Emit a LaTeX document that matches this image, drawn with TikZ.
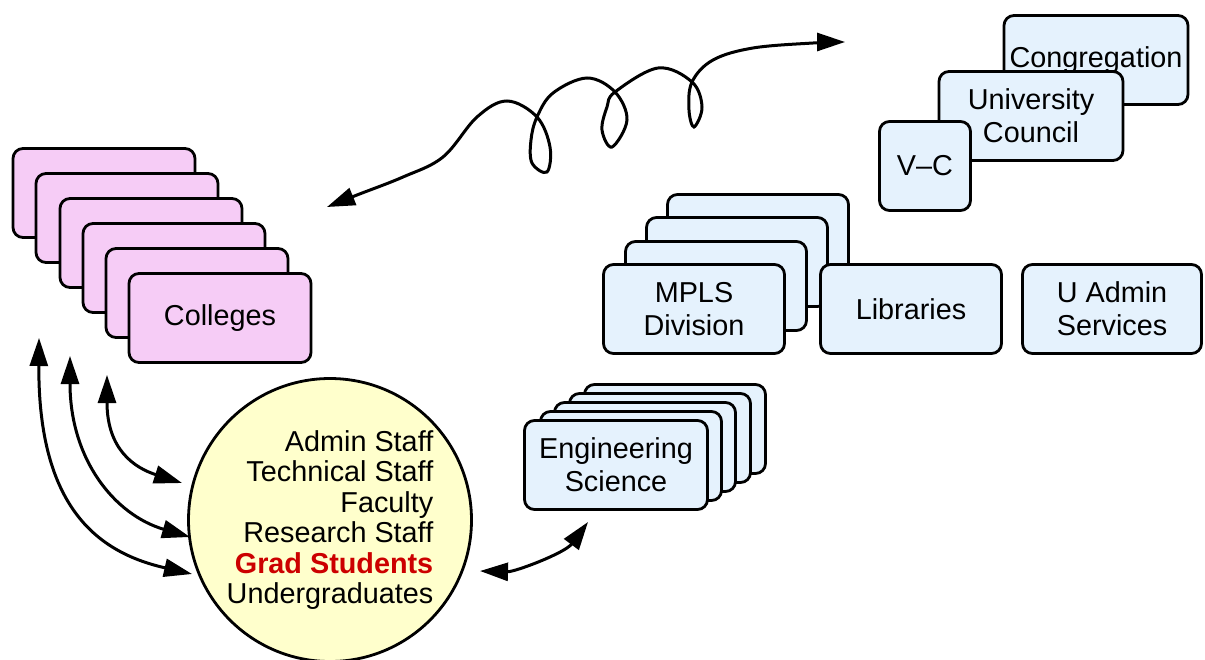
\documentclass[tikz,border=0pt]{standalone}
\usepackage{fontspec}
\setmainfont{Liberation Sans}
\usetikzlibrary{arrows.meta}
\definecolor{collegepink}{RGB}{246,204,246}
\definecolor{unitblue}{RGB}{229,242,253}
\definecolor{memberyellow}{RGB}{255,255,204}
\definecolor{gradred}{RGB}{204,0,0}

\begin{document}
\begin{tikzpicture}[x=1pt,y=-1pt]
\useasboundingbox (0,0) rectangle (1205,659);
\tikzstyle{College} = [draw, line width=2.8pt, rounded corners=10pt, fill=collegepink, minimum width=182pt, minimum height=89pt, align=center, font=\fontsize{28.8}{33}\selectfont]
\tikzstyle{Unit} = [draw, line width=2.8pt, rounded corners=10pt, fill=unitblue, minimum width=181pt, minimum height=89pt, align=center, font=\fontsize{28.8}{33}\selectfont]
\tikzstyle{Members} = [draw, line width=2.8pt, circle, fill=memberyellow, minimum size=283pt, inner sep=0pt, align=right, font=\fontsize{28.8}{30.4}\selectfont]

% colleges
\node [College] (v1) at (104,193) {};
\node [College] (v2) at (127,218) {};
\node [College] (v3) at (151,243) {};
\node [College] (v4) at (174,268) {};
\node [College] (v5) at (197,293) {};
\node [College] (v6) at (220,318) {Colleges};

% university
\node [Unit, minimum width=184pt] (v7) at (1096,60) {Congregation};
\node [Unit, minimum width=184pt] (v8) at (1031,116) {University\\Council};
\node [Unit, minimum width=91pt] (v9) at (925,166) {V–C};

% divisions
\node [Unit] (v10) at (758,239) {};
\node [Unit] (v11) at (737,262) {};
\node [Unit] (v12) at (716,286) {};
\node [Unit] (v13) at (694,309) {MPLS\\Division};
\node [Unit] (v14) at (911,309) {Libraries};
\node [Unit, minimum width=179pt] (v15) at (1112,309) {U Admin\\Services};

% departments
\node [Unit] (v16) at (675,429) {};
\node [Unit] (v17) at (660,438) {};
\node [Unit] (v18) at (645,447) {};
\node [Unit] (v19) at (631,456) {};
\node [Unit, minimum width=183pt] (v20) at (616,465) {Engineering\\Science};

\node [Members] (v21) at (330,520) {Admin Staff\\Technical Staff\\Faculty\\Research Staff\\{\bfseries\color{gradred}Grad Students}\\Undergraduates};

\tikzstyle{Link} = [{Triangle[length=28pt,width=18pt]}-{Triangle[length=28pt,width=18pt]}, line width=3pt]
\coordinate (a1) at (39,338);
\coordinate (a2) at (70,356);
\coordinate (a3) at (107,375);
\coordinate (b1) at (192,574);
\coordinate (b2) at (190,537);
\coordinate (b3) at (182,483);
\coordinate (e1) at (480,571);
\coordinate (e2) at (588,522);
\coordinate (w1) at (327,207);
\coordinate (w2) at (845,42);

\draw [Link] (a1) .. controls (38,510) and (100,553) .. (b1);
\draw [Link] (a2) .. controls (70,460) and (115,515) .. (b2);
\draw [Link] (a3) .. controls (107,450) and (135,468) .. (b3);
\draw [Link] (e1) .. controls (515,572) and (565,553) .. (e2);

\draw [Link] plot [smooth, tension=0.6] coordinates {(w1) (357,195) (403,177) (443,157) (477,117) (507,101) (537,117) (550,147) (547,172) (532,163) (531,140) (537,117) (553,93) (587,78) (615,92) (627,120) (612,147) (602,130) (607,107) (615,92) (658,68) (692,82) (702,107) (694,127) (689,110) (692,82) (713,60) (753,48) (813,43) (w2)};
\end{tikzpicture}
\end{document}
